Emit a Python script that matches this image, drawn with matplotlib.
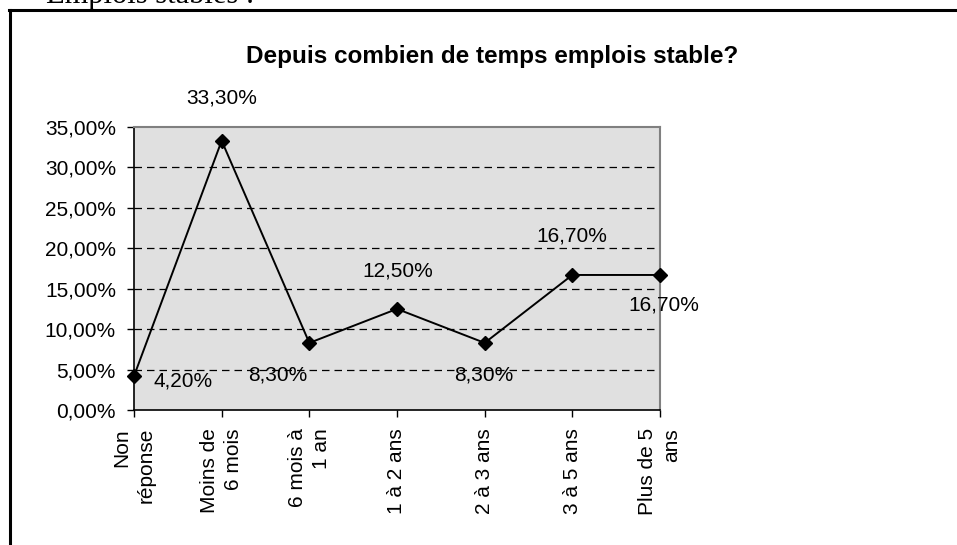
import matplotlib
matplotlib.use("Agg")
import matplotlib.pyplot as plt
from matplotlib.lines import Line2D

plt.rcParams['font.family'] = ['Liberation Sans', 'DejaVu Sans']

categories = ["Non\nréponse", "Moins de\n6 mois", "6 mois à\n1 an", "1 à 2 ans",
              "2 à 3 ans", "3 à 5 ans", "Plus de 5\nans"]
values = [4.2, 33.3, 8.3, 12.5, 8.3, 16.7, 16.7]
yticks = [0, 5, 10, 15, 20, 25, 30, 35]
title = "Depuis combien de temps emplois stable?"
header = "Emplois stables :"
# label offsets (pixels) relative to each point
label_offsets = [(49, -5), (0, 43), (-32, -32), (1, 38), (-1, -32), (-1, 39), (4, -30)]

W, H = 957, 545
fig = plt.figure(figsize=(W / 100, H / 100), dpi=100)
ax = fig.add_axes([134 / W, 1 - 410 / H, (660 - 134) / W, (410 - 127) / H])
ax.set_facecolor('#e0e0e0')

x = list(range(len(categories)))
ax.plot(x, values, color='black', lw=1.4, marker='D', markersize=7.5,
        markerfacecolor='black', markeredgecolor='black', zorder=3, clip_on=False)

fs = 15
for xi, v, (dx, dy) in zip(x, values, label_offsets):
    lab = f"{v:.2f}%".replace('.', ',')
    ax.annotate(lab, (xi, v), xytext=(dx, dy), textcoords='offset pixels',
                ha='center', va='center', fontsize=fs, color='black', zorder=4)

ax.set_xlim(0, len(categories) - 1)
ax.set_ylim(0, 35)
ax.set_yticks(yticks)
ax.set_yticklabels([f"{t:.2f}%".replace('.', ',') for t in yticks], fontsize=fs)
ax.set_xticks(x)
ax.set_xticklabels(categories, rotation=90, fontsize=fs, ha='center', va='top',
                   multialignment='right', linespacing=1.35)
ax.tick_params(axis='y', direction='out', length=5, width=1, color='black', pad=8)
ax.tick_params(axis='x', direction='out', length=5, width=1, color='black', pad=8)

for t in yticks[1:-1]:
    ax.axhline(t, color='black', lw=0.9, ls=(0, (6, 4)), zorder=1)

for s in ['top', 'right']:
    ax.spines[s].set_color('#808080')
    ax.spines[s].set_linewidth(1.5)
for s in ['left', 'bottom']:
    ax.spines[s].set_color('black')
    ax.spines[s].set_linewidth(1.2)

fig.text(492 / W, 1 - 56 / H, title, ha='center', va='center', fontsize=17.5,
         fontweight='bold')

# outer frame (partially visible)
fig.add_artist(Line2D([10 / W, 10 / W], [0, 1 - 10 / H], transform=fig.transFigure,
                      color='black', lw=2.2))
fig.add_artist(Line2D([9 / W, 1], [1 - 10 / H, 1 - 10 / H], transform=fig.transFigure,
                      color='black', lw=2.2))

fig.text(46 / W, 1 - 3 / H, header, ha='left', va='baseline', fontsize=22,
         family='Liberation Serif')

fig.savefig("out.png", dpi=100)
